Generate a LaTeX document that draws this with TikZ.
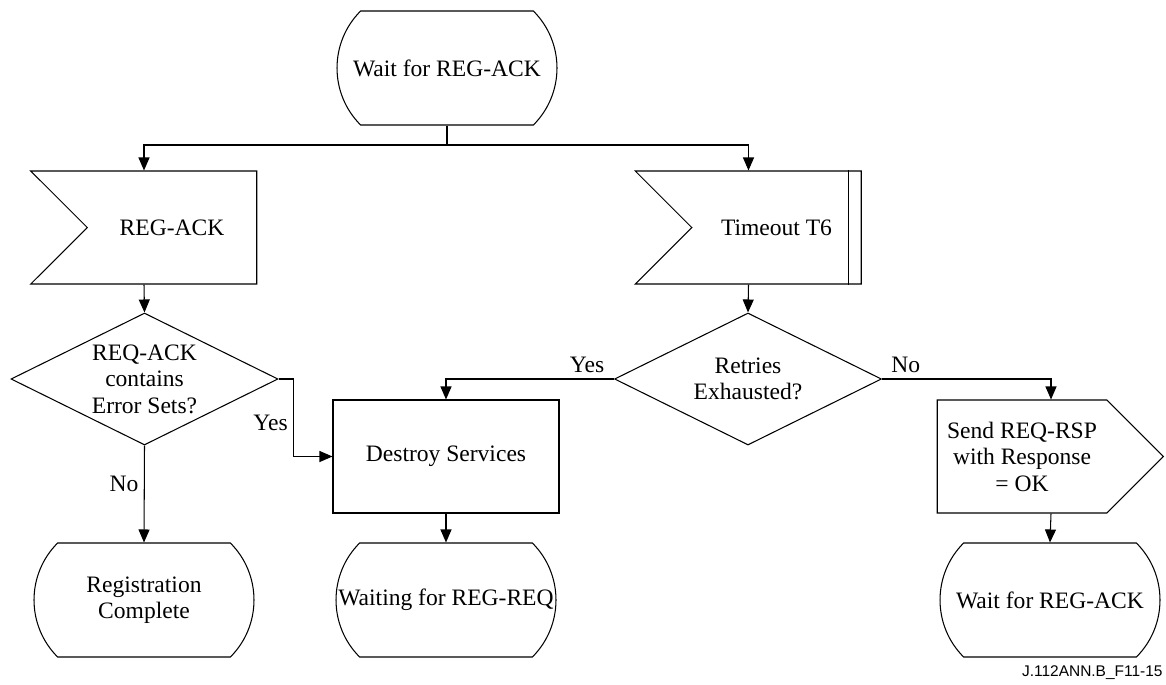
\documentclass[tikz,border=0pt]{standalone}
\usepackage{fontspec}
\setmainfont{Liberation Serif}
\newfontfamily\figfont{Liberation Sans}
\usetikzlibrary{arrows.meta,positioning,calc,shapes.geometric,shapes.misc,shapes.symbols}

\begin{document}
\begin{tikzpicture}[
  line width=0.6pt,
  base/.style={draw, align=center, inner sep=2pt, font=\fontsize{13.4}{15.1}\selectfont},
  state/.style={base, rounded rectangle, rounded rectangle arc length=90,
                minimum width=4.54cm, minimum height=2.28cm},
  inp/.style={base, signal, signal to=nowhere, signal from=west,
              minimum width=4.52cm, minimum height=2.26cm},
  outp/.style={base, signal, signal to=east,
               minimum width=4.52cm, minimum height=2.26cm},
  task/.style={base, rectangle, minimum width=4.52cm, minimum height=2.26cm},
  dec/.style={base, diamond, aspect=2, inner sep=0pt,
              minimum width=5.34cm, minimum height=2.64cm},
  lnk/.style={-{Triangle[length=0.26cm,width=0.22cm]}},
  lbl/.style={font=\fontsize{13.4}{15.1}\selectfont, inner sep=3pt},
]
\useasboundingbox (0,0) rectangle (23.32,-13.68);

% top state and the two inputs
\node[state] (wait) at (8.94,-1.36) {Wait for REG-ACK};
\node[inp] (ack) at (3.44,-4.55) {REG-ACK};
\node[inp] (tmo) at (15.53,-4.55) {Timeout T6};
\draw ([xshift=-0.26cm]tmo.east |- tmo.north) -- ([xshift=-0.26cm]tmo.east |- tmo.south);

\coordinate (split) at (8.94,-2.9);
\draw (wait.south) -- (split);
\draw[lnk] (split) -| ([xshift=-0.56cm]ack.north);
\draw[lnk] (split) -| ([xshift=-0.56cm]tmo.north);

% decisions
\node[dec] (err) at (2.89,-7.58) {REQ-ACK\\contains\\Error Sets?};
\node[dec] (retry) at (14.96,-7.58) {Retries\\Exhausted?};
\draw[lnk] ([xshift=-0.56cm]ack.south) -- (err.north);
\draw[lnk] ([xshift=-0.56cm]tmo.south) -- (retry.north);

% tasks
\node[task] (kill) at (8.92,-9.13) {Destroy Services};
\node[outp] (send) at (20.44,-9.13) {Send REQ-RSP\\with Response\\= OK};

\draw[lnk] (err.east) -- ++(0.3,0) |- node[lbl, pos=0.28, left] {Yes} (kill.west);
\draw[lnk] (retry.west) -| node[lbl, pos=0.08, above] {Yes} (kill.north);
\draw[lnk] (retry.east) -| node[lbl, pos=0.07, above] {No} ([xshift=0.58cm]send.north);

% end states
\node[state] (done) at (2.88,-12.0) {Registration\\Complete};
\node[state] (waitreq) at (8.92,-12.0) {Waiting for REG-REQ};
\node[state] (wait2) at (21.0,-12.0) {Wait for REG-ACK};

\draw[lnk] (err.south) -- node[lbl, pos=0.4, left] {No} (done.north);
\draw[lnk] (kill.south) -- (waitreq.north);
\draw[lnk] ([xshift=0.58cm]send.south) -- (wait2.north);

\node[font=\figfont\fontsize{8.8}{10}\selectfont, anchor=east, inner sep=0pt] (fig) at (23.26,-13.46) {J.112ANN.B\_F11-15};
\end{tikzpicture}
\end{document}
